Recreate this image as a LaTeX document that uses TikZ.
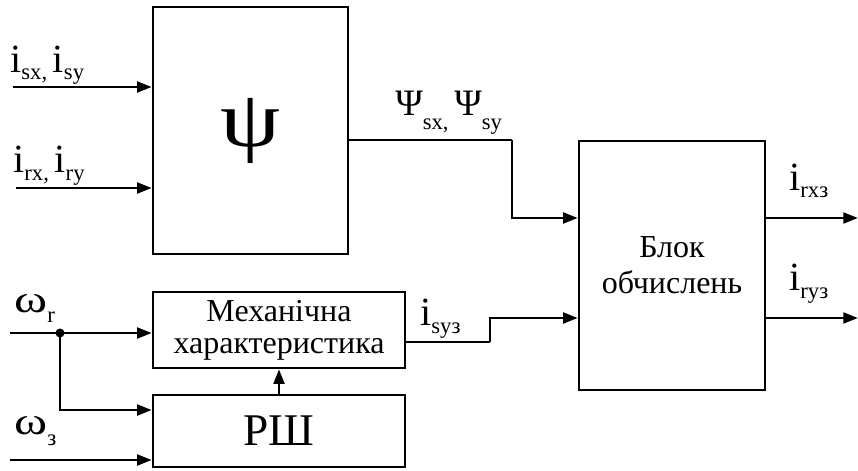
\documentclass[tikz,border=0pt]{standalone}
\usepackage{fontspec}
\usepackage{graphicx}
\setmainfont{Liberation Serif}
\usetikzlibrary{arrows.meta}
\newcommand\sbs[2][0.2em]{\raisebox{-#1}{\fontsize{17pt}{17pt}\selectfont #2}}
\newcommand\wom{\scalebox{1.3}[1]{ω}}
\begin{document}
\begin{tikzpicture}[x=0.75pt,y=-0.75pt,
  blk/.style={draw, line width=1.8pt, rectangle, inner sep=0pt, anchor=center},
  arr/.style={line width=2.2pt, -{Triangle[length=11pt,width=8pt]}},
  wire/.style={line width=1.8pt},
  lbl/.style={inner sep=0pt, anchor=base west, font=\fontsize{30pt}{30pt}\selectfont}]
\useasboundingbox (0,0) rectangle (858,471);
% blocks
\node[blk, minimum width=195*0.75pt, minimum height=247*0.75pt, font=\fontsize{60pt}{60pt}\selectfont] (psi) at (250.5,130.5) {\raisebox{0.12em}{\scalebox{1.2}[1]{ψ}}};
\node[blk, minimum width=186*0.75pt, minimum height=249*0.75pt, align=center, font=\fontsize{24pt}{27pt}\selectfont] (calc) at (672,265.5) {Блок\\обчислень};
\node[blk, minimum width=252*0.75pt, minimum height=76*0.75pt, align=center, font=\fontsize{24pt}{24pt}\selectfont] (mech) at (279,330) {Механічна\\характеристика};
\node[blk, minimum width=252*0.75pt, minimum height=72*0.75pt, font=\fontsize{34pt}{34pt}\selectfont] (rsh) at (279,431) {РШ};
% labels
\node[lbl] (l1) at (10,72) {i\sbs{sx, }i\sbs{sy}};
\node[lbl] (l2) at (13,172) {i\sbs{rx, }i\sbs{ry}};
\node[lbl, font=\fontsize{28pt}{28pt}\selectfont] (l3) at (395,115) {Ψ\sbs[0.4em]{sx, }Ψ\sbs[0.4em]{sy}};
\node[lbl] (l4) at (789,190) {i\sbs{rxз}};
\node[lbl] (l5) at (789,290) {i\sbs{ryз}};
\node[lbl] (l6) at (420,325) {i\sbs{syз}};
\node[lbl, font=\fontsize{29pt}{29pt}\selectfont] (l7) at (14,312) {\wom\sbs[0.28em]{r}};
\node[lbl, font=\fontsize{29pt}{29pt}\selectfont] (l8) at (14,434) {\wom\sbs[0.3em]{з}};
% coordinates
\coordinate (in1) at (13,87);
\coordinate (in2) at (16,188);
\coordinate (in3) at (10,333);
\coordinate (dot) at (60,333);
\coordinate (in4) at (10,460);
\coordinate (o1) at (858,218);
\coordinate (o2) at (858,318);
\coordinate (pb) at (512,140);
\coordinate (mb) at (490,342);
% connectors
\draw[arr] (in1) -- (in1 -| psi.west);
\draw[arr] (in2) -- (in2 -| psi.west);
\draw[wire] (psi.east |- pb) -- (pb);
\draw[arr] (pb) |- (calc.west |- o1);
\draw[wire] (mech.east |- mb) -- (mb);
\draw[arr] (mb) |- (calc.west |- o2);
\draw[arr] (calc.east |- o1) -- (o1);
\draw[arr] (calc.east |- o2) -- (o2);
\draw[arr] (in3) -- (in3 -| mech.west);
\draw[arr] (dot) |- (rsh.west |- 0,410);
\draw[arr] (in4) -- (in4 -| rsh.west);
\draw[arr] (rsh.north) -- (mech.south);
\fill (dot) circle (4.5);
\end{tikzpicture}
\end{document}
